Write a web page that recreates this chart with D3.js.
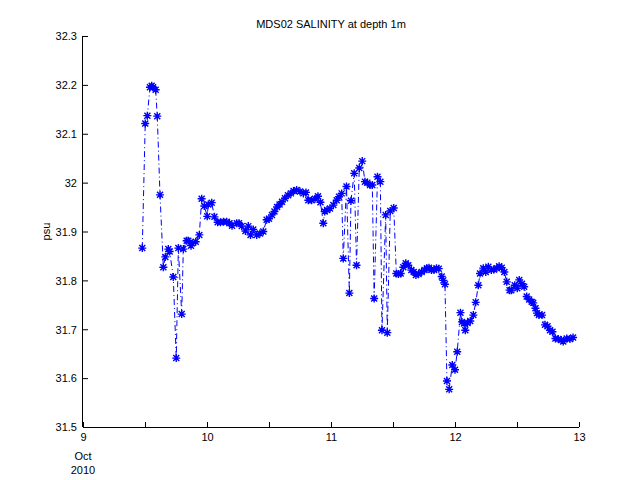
<!DOCTYPE html>
<html><head><meta charset="utf-8">
<script src="https://cdn.jsdelivr.net/npm/d3@7"></script>
<style>html,body{margin:0;padding:0;background:#fff;}svg{display:block;}</style>
</head><body>
<svg id="chart" width="640" height="480"></svg>
<script>
const titleText = "MDS02 SALINITY at depth 1m";
const yLabelText = "psu";
// time as decimal day of October 2010
const dayOfOct = [9.478,9.502,9.519,9.540,9.554,9.565,9.586,9.599,9.621,9.648,9.664,9.688,9.699,9.728,9.752,9.769,9.796,9.809,9.836,9.849,9.871,9.881,9.909,9.938,9.957,9.978,10.002,10.010,10.038,10.060,10.086,10.109,10.133,10.159,10.181,10.202,10.240,10.258,10.280,10.310,10.333,10.351,10.373,10.401,10.427,10.454,10.481,10.500,10.524,10.544,10.565,10.585,10.605,10.629,10.653,10.677,10.698,10.723,10.750,10.777,10.798,10.817,10.844,10.871,10.895,10.915,10.938,10.949,10.968,10.992,11.019,11.046,11.065,11.086,11.099,11.125,11.148,11.161,11.187,11.206,11.228,11.252,11.274,11.293,11.315,11.333,11.348,11.375,11.398,11.411,11.441,11.454,11.478,11.506,11.527,11.544,11.562,11.583,11.603,11.623,11.648,11.667,11.685,11.706,11.731,11.754,11.774,11.790,11.810,11.831,11.851,11.869,11.893,11.906,11.919,11.935,11.953,11.978,12.000,12.018,12.044,12.056,12.074,12.083,12.101,12.123,12.148,12.167,12.188,12.202,12.228,12.248,12.269,12.293,12.313,12.337,12.356,12.377,12.398,12.417,12.440,12.454,12.482,12.502,12.518,12.540,12.558,12.578,12.598,12.619,12.631,12.649,12.661,12.677,12.702,12.726,12.746,12.766,12.786,12.810,12.833,12.857,12.873,12.901,12.927,12.952];
const salinity = [31.866,32.121,32.137,32.195,32.198,32.195,32.190,32.136,31.975,31.827,31.848,31.864,31.859,31.807,31.641,31.866,31.731,31.864,31.881,31.881,31.871,31.876,31.879,31.893,31.967,31.952,31.931,31.955,31.959,31.930,31.919,31.919,31.920,31.920,31.917,31.912,31.917,31.917,31.911,31.901,31.911,31.893,31.904,31.893,31.896,31.900,31.924,31.926,31.934,31.941,31.950,31.955,31.961,31.968,31.974,31.978,31.983,31.985,31.982,31.978,31.980,31.964,31.964,31.967,31.972,31.960,31.917,31.941,31.944,31.947,31.954,31.964,31.971,31.978,31.845,31.992,31.774,31.963,32.019,31.831,32.030,32.044,32.002,32.000,31.995,31.995,31.763,32.012,32.002,31.698,31.934,31.693,31.942,31.948,31.814,31.813,31.814,31.827,31.835,31.831,31.821,31.817,31.811,31.813,31.817,31.821,31.825,31.826,31.821,31.821,31.825,31.824,31.808,31.800,31.792,31.594,31.577,31.627,31.617,31.654,31.734,31.715,31.712,31.698,31.713,31.717,31.729,31.755,31.790,31.814,31.825,31.817,31.828,31.821,31.822,31.825,31.829,31.826,31.817,31.797,31.780,31.780,31.790,31.784,31.801,31.793,31.787,31.767,31.761,31.756,31.754,31.743,31.733,31.729,31.729,31.709,31.706,31.698,31.695,31.681,31.680,31.678,31.675,31.681,31.680,31.683];
const xTicks = [9,9.5,10,10.5,11,11.5,12,12.5,13];
const xTickLabels = ["9","","10","","11","","12","","13"];
const yTicks = [31.5,31.6,31.7,31.8,31.9,32,32.1,32.2,32.3];
const yTickLabels = ["31.5","31.6","31.7","31.8","31.9","32","32.1","32.2","32.3"];
const dateLines = ["Oct","2010"];

const svg = d3.select("#chart");
const m = {left:83, right:579, top:36, bottom:427};
const x = d3.scaleLinear().domain([9,13]).range([m.left,m.right]);
const y = d3.scaleLinear().domain([31.5,32.3]).range([m.bottom,m.top]);
const font = "'Liberation Sans', Arial, Helvetica, sans-serif";

// axes
const xAxis = d3.axisBottom(x).tickValues(xTicks).tickSize(-5).tickSizeOuter(0)
  .tickFormat((d,i)=>xTickLabels[i]);
const gx = svg.append("g").attr("transform",`translate(0,${m.bottom})`).call(xAxis);
gx.select(".domain").attr("stroke","#000").attr("d",`M${m.left},0.5H${m.right}`);
gx.selectAll(".tick line").attr("stroke","#000");
gx.selectAll(".tick text").attr("y",14).attr("dy",0).attr("font-family",font).attr("font-size",11).attr("fill","#000");

const yAxis = d3.axisLeft(y).tickValues(yTicks).tickSize(-5).tickSizeOuter(0)
  .tickFormat((d,i)=>yTickLabels[i]);
const gy = svg.append("g").attr("transform",`translate(${m.left},0)`).call(yAxis);
gy.select(".domain").attr("stroke","#000").attr("d",`M-0.5,${m.top}V${m.bottom}`);
gy.selectAll(".tick line").attr("stroke","#000");
gy.selectAll(".tick text").attr("x",-6).attr("dy","0.35em").attr("font-family",font).attr("font-size",11).attr("fill","#000");

// date lines under first tick
dateLines.forEach((t,i)=>{
  svg.append("text").attr("x",x(9)).attr("y",m.bottom+33+i*14).attr("text-anchor","middle")
    .attr("font-family",font).attr("font-size",11).attr("fill","#000").text(t);
});

// title & label
svg.append("text").attr("x",(m.left+m.right)/2).attr("y",28).attr("text-anchor","middle")
  .attr("font-family",font).attr("font-size",11).attr("fill","#000").text(titleText);
svg.append("text").attr("transform",`translate(50,${(m.top+m.bottom)/2}) rotate(-90)`)
  .attr("text-anchor","middle").attr("font-family",font).attr("font-size",11).attr("fill","#000").text(yLabelText);

// data
const data = dayOfOct.map((d,i)=>({t:d,v:salinity[i]}));
const line = d3.line().x(d=>x(d.t)).y(d=>y(d.v));
svg.append("path").datum(data).attr("d",line).attr("fill","none")
  .attr("stroke","#0000ff").attr("stroke-width",1).attr("stroke-dasharray","6,3,1,3");

const r = 4, rd = 3;
const star = `M${-r},0H${r}M0,${-r}V${r}M${-rd},${-rd}L${rd},${rd}M${-rd},${rd}L${rd},${-rd}`;
svg.append("g").selectAll("path").data(data).join("path")
  .attr("transform",d=>`translate(${x(d.t)},${y(d.v)})`)
  .attr("d",star).attr("fill","none").attr("stroke","#0000ff").attr("stroke-width",1.4);
</script>
</body></html>
